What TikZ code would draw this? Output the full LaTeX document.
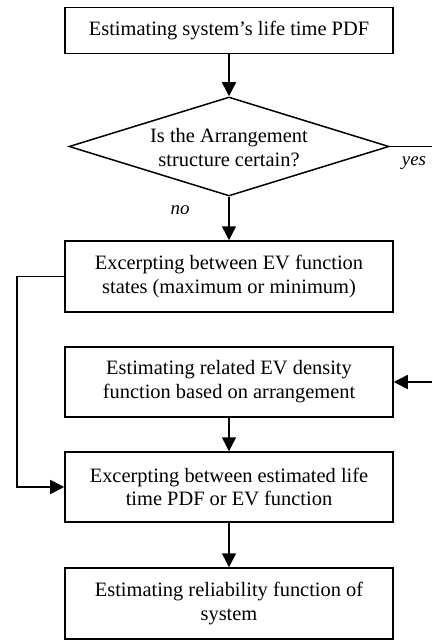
\documentclass[tikz,border=0pt]{standalone}
\usepackage{fontspec}
\setmainfont{Liberation Serif}
\usetikzlibrary{shapes.geometric,arrows.meta}
\begin{document}
\begin{tikzpicture}[x=1bp,y=-1bp,
  box/.style={draw, line width=1.5bp, minimum width=328bp, inner sep=0pt, align=center, font=\fontsize{20.5}{24}\selectfont},
  lbl/.style={font=\fontsize{19}{22}\selectfont\itshape, inner sep=0pt},
  arr/.style={line width=1.5bp, -{Triangle[length=14bp,width=14bp]}},
  ln/.style={line width=1.5bp}]
\useasboundingbox (0,0) rectangle (432,640);
\node[box, minimum height=46bp] (b1) at (229,30.5) {Estimating system{\char"0027}s life time PDF};
\node[draw, diamond, line width=1.5bp, minimum width=320bp, minimum height=99bp, inner sep=0pt] (dec) at (229,146.5) {};
\node[align=center, inner sep=0pt, font=\fontsize{20.5}{24}\selectfont] (dectext) at (229,148) {Is the Arrangement\\structure certain?};
\node[box, minimum height=71bp] (b2) at (229,276.5) {Excerpting between EV function\\states (maximum or minimum)};
\node[box, minimum height=70bp] (b3) at (229,382) {Estimating related EV density\\function based on arrangement};
\node[box, minimum height=70bp] (b4) at (229,487) {Excerpting between estimated life\\time PDF or EV function};
\node[box, minimum height=71bp] (b5) at (229,603.5) {Estimating reliability function of\\system};
\node[lbl] (yes) at (414,163) {yes};
\node[lbl] (no) at (180,210) {no};
\coordinate (yesend) at (432,146.5);
\coordinate (rin) at (432,382);
\coordinate (lc) at (17,276.5);
\draw[arr] (b1) -- (dec.north);
\draw[arr] (dec.south) -- (b2);
\draw[ln] (dec.east) -- (yesend);
\draw[arr] (rin) -- (b3.east);
\draw[arr] (b3) -- (b4);
\draw[arr] (b4) -- (b5);
\draw[arr] (b2.west) -- (lc) |- (b4.west);
\end{tikzpicture}
\end{document}
